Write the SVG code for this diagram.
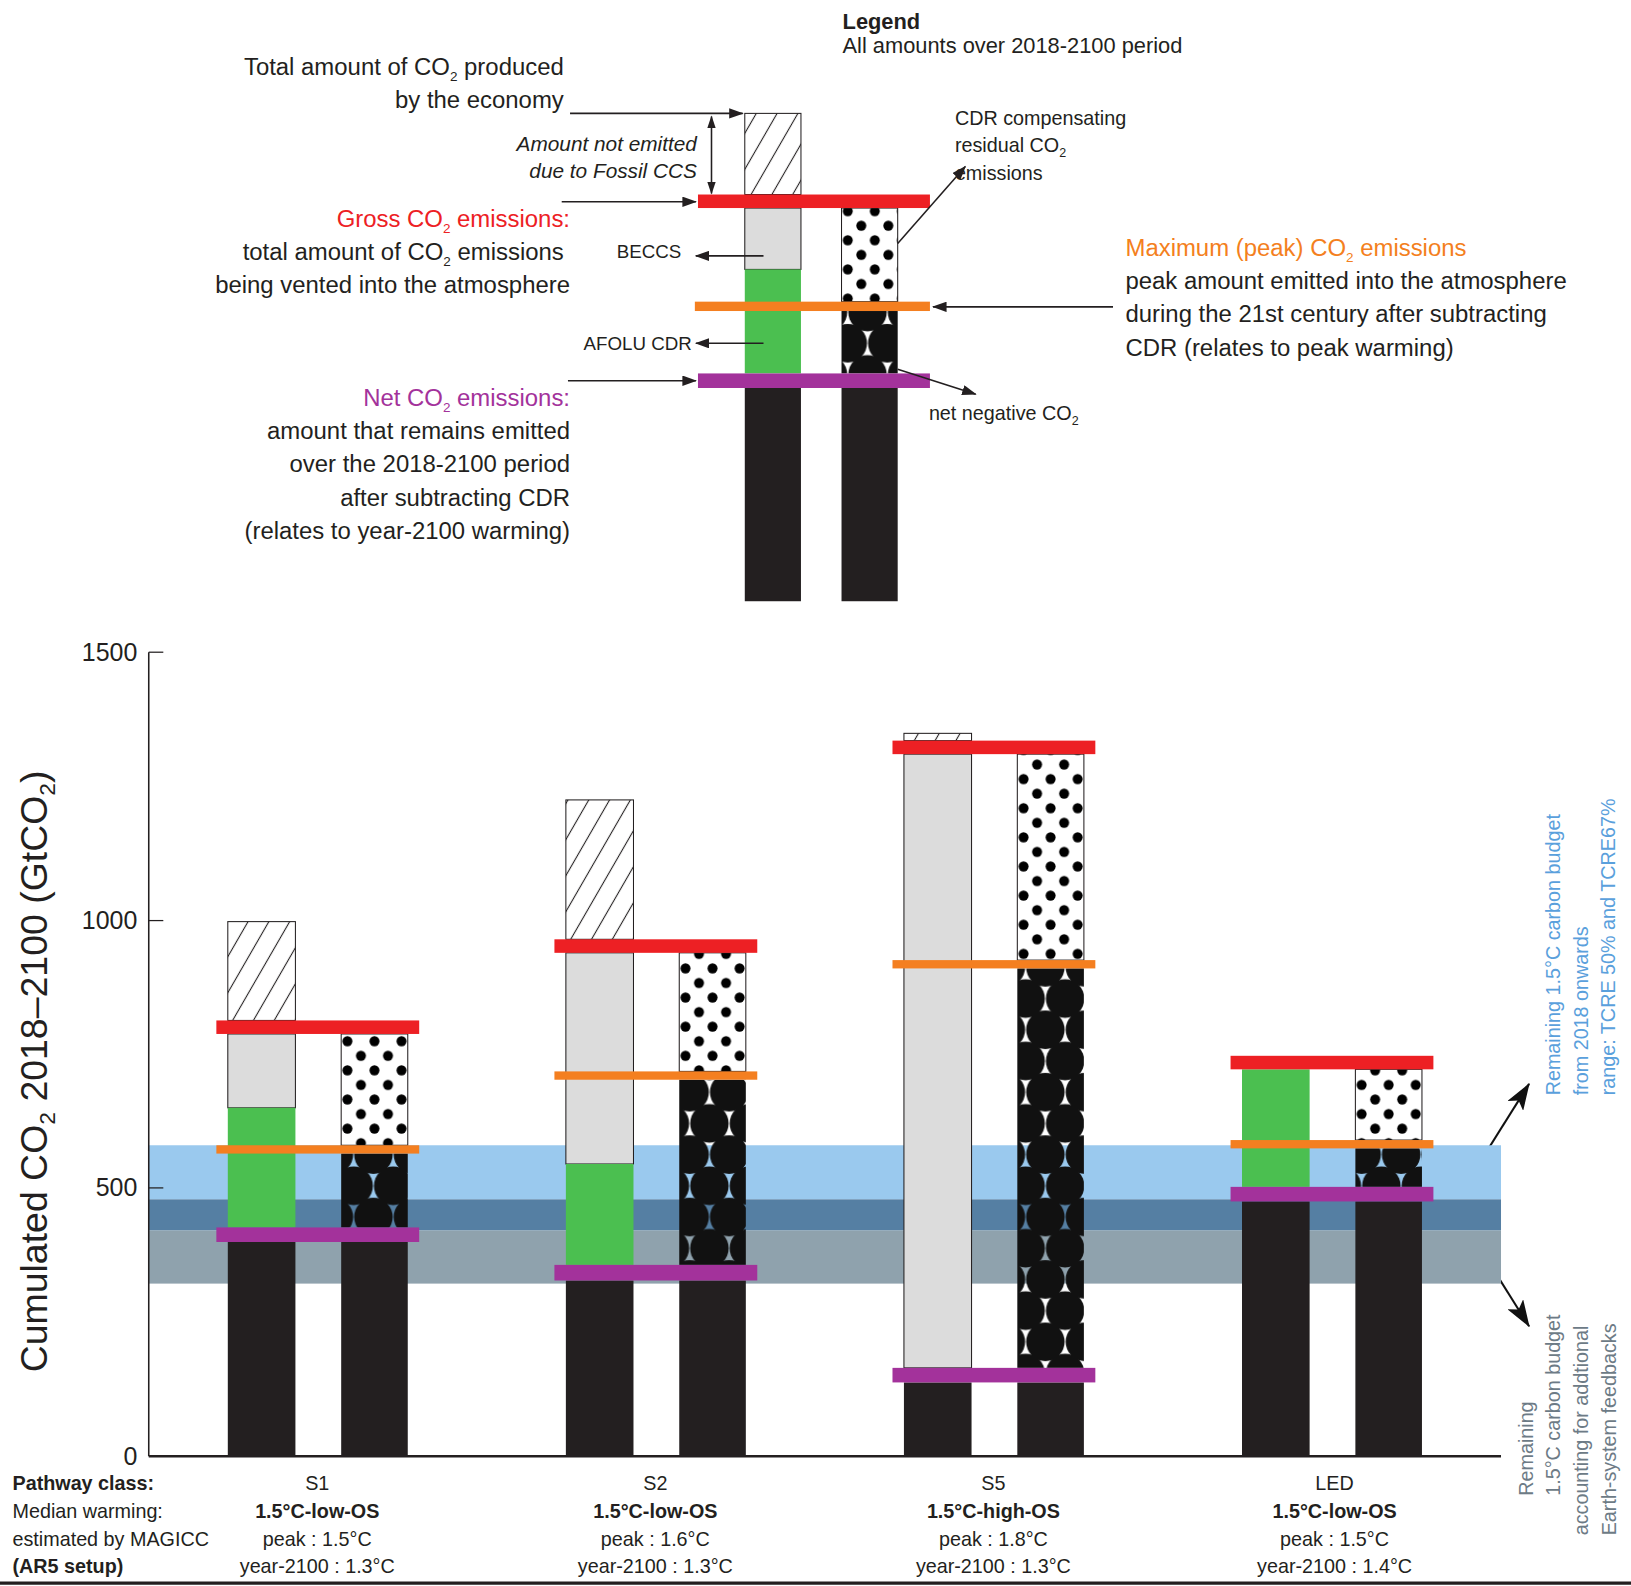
<svg xmlns="http://www.w3.org/2000/svg" width="1631" height="1586" viewBox="0 0 1631 1586">
<style>
text{font-family:"Liberation Sans",Arial,sans-serif;fill:#231f20}
.t{font-size:23px}
.s{font-size:20px}
.b{font-weight:bold}
.k{fill:#231f20}
.o{stroke:#231f20;stroke-width:1}
.ln{stroke:#231f20;stroke-width:1.5;fill:none}
.red{fill:#ed2024}.org{fill:#f47f20}.pur{fill:#a3329b}.grn{fill:#4bbf50}.gry{fill:#dcdcdc}
</style>
<defs>
<pattern id="hatch" patternUnits="userSpaceOnUse" width="20" height="20" patternTransform="skewX(-30)">
<rect width="20" height="20" fill="#fff"/><line x1="10" y1="0" x2="10" y2="20" stroke="#231f20" stroke-width="1.2"/>
</pattern>
<pattern id="dots" patternUnits="userSpaceOnUse" width="26" height="28" x="3">
<rect width="26" height="28" fill="#fff"/><circle cx="6" cy="7" r="4.8" fill="#000"/><circle cx="19" cy="21" r="4.8" fill="#000"/>
</pattern>
<pattern id="circ" patternUnits="userSpaceOnUse" width="38" height="60" x="-2">
<circle cx="0" cy="0" r="18.5" fill="#111"/><circle cx="38" cy="0" r="18.5" fill="#111"/><circle cx="19" cy="30" r="18.5" fill="#111"/><circle cx="0" cy="60" r="18.5" fill="#111"/><circle cx="38" cy="60" r="18.5" fill="#111"/>
</pattern>
<marker id="ah" markerUnits="userSpaceOnUse" markerWidth="14" markerHeight="10" refX="13" refY="5" orient="auto"><path d="M0,0 L14,5 L0,10 Z" fill="#231f20"/></marker>
<marker id="ahs" markerUnits="userSpaceOnUse" markerWidth="12" markerHeight="8" refX="11" refY="4" orient="auto-start-reverse"><path d="M0,0 L12,4 L0,8 Z" fill="#231f20"/></marker>
<marker id="ahb" markerUnits="userSpaceOnUse" markerWidth="26" markerHeight="18" refX="25" refY="9" orient="auto"><path d="M0,0 L26,9 L0,18 L6,9 Z" fill="#111"/></marker>
</defs>
<rect width="1631" height="1586" fill="#fff"/>
<g transform="scale(1.0402)">
<!-- legend -->
<g id="legend-title">
<text x="810" y="28" class="t b" style="font-size:21px">Legend</text>
<text x="810" y="51" class="t" style="font-size:21px">All amounts over 2018-2100 period</text>
</g>
<g id="legend-bars">
<rect x="716" y="109" width="54" height="78" fill="url(#hatch)" class="o"/>
<rect x="716" y="200" width="54" height="59" class="gry o"/>
<rect x="716" y="259" width="54" height="100" class="grn"/>
<rect x="716" y="373" width="54" height="205" class="k"/>
<rect x="809" y="200" width="54" height="90" fill="url(#dots)" class="o"/>
<rect x="809" y="299" width="54" height="60" fill="url(#circ)"/>
<rect x="809" y="373" width="54" height="205" class="k"/>
<rect x="671" y="187" width="223" height="13" class="red"/>
<rect x="668" y="290" width="226" height="9" class="org"/>
<rect x="671" y="359" width="223" height="14" class="pur"/>
</g>
<g id="legend-texts">
<text x="542" y="72" class="t" text-anchor="end">Total amount of CO<tspan dy="6" font-size="13">2</tspan><tspan dy="-6"> produced</tspan></text>
<text x="542" y="104" class="t" text-anchor="end">by the economy</text>
<text x="670" y="145" class="s" text-anchor="end" font-style="italic">Amount not emitted</text>
<text x="670" y="171" class="s" text-anchor="end" font-style="italic">due to Fossil CCS</text>
<text x="548" y="218" class="t" text-anchor="end" style="fill:#ed2024">Gross CO<tspan dy="6" font-size="13" style="fill:#ed2024">2</tspan><tspan dy="-6" style="fill:#ed2024"> emissions:</tspan></text>
<text x="542" y="250" class="t" text-anchor="end">total amount of CO<tspan dy="6" font-size="13">2</tspan><tspan dy="-6"> emissions</tspan></text>
<text x="548" y="282" class="t" text-anchor="end">being vented into the atmosphere</text>
<text x="655" y="248" class="s" text-anchor="end" style="font-size:18px">BECCS</text>
<text x="665" y="336" class="s" text-anchor="end" style="font-size:18px">AFOLU CDR</text>
<text x="548" y="390" class="t" text-anchor="end" style="fill:#a3329b">Net CO<tspan dy="6" font-size="13" style="fill:#a3329b">2</tspan><tspan dy="-6" style="fill:#a3329b"> emissions:</tspan></text>
<text x="548" y="422" class="t" text-anchor="end">amount that remains emitted</text>
<text x="548" y="454" class="t" text-anchor="end">over the 2018-2100 period</text>
<text x="548" y="486" class="t" text-anchor="end">after subtracting CDR</text>
<text x="548" y="518" class="t" text-anchor="end">(relates to year-2100 warming)</text>
<text x="918" y="120" class="s" style="font-size:19px">CDR compensating</text>
<text x="918" y="146" class="s" style="font-size:19px">residual CO<tspan dy="5" font-size="12">2</tspan></text>
<text x="918" y="173" class="s" style="font-size:19px">emissions</text>
<text x="893" y="404" class="s" style="font-size:19px">net negative CO<tspan dy="5" font-size="12">2</tspan></text>
<text x="1082" y="246" class="t" style="fill:#f47f20">Maximum (peak) CO<tspan dy="6" font-size="13" style="fill:#f47f20">2</tspan><tspan dy="-6" style="fill:#f47f20"> emissions</tspan></text>
<text x="1082" y="278" class="t">peak amount emitted into the atmosphere</text>
<text x="1082" y="310" class="t">during the 21st century after subtracting</text>
<text x="1082" y="342" class="t">CDR (relates to peak warming)</text>
</g>
<g id="connectors">
<line x1="548" y1="109" x2="714" y2="109" class="ln" marker-end="url(#ah)"/>
<line x1="684" y1="112" x2="684" y2="186" class="ln" marker-start="url(#ahs)" marker-end="url(#ahs)"/>
<line x1="540" y1="194" x2="669" y2="194" class="ln" marker-end="url(#ah)"/>
<line x1="734" y1="246" x2="669" y2="246" class="ln" marker-end="url(#ah)"/>
<line x1="734" y1="330" x2="669" y2="330" class="ln" marker-end="url(#ah)"/>
<line x1="546" y1="366" x2="669" y2="366" class="ln" marker-end="url(#ah)"/>
<line x1="863" y1="234" x2="928" y2="160" class="ln" marker-end="url(#ah)"/>
<line x1="863" y1="355" x2="938" y2="379" class="ln" marker-end="url(#ah)"/>
<line x1="1070" y1="295" x2="897" y2="295" class="ln" marker-end="url(#ah)"/>
<line x1="1426" y1="1112" x2="1470" y2="1042" stroke="#111" stroke-width="2" marker-end="url(#ahb)"/>
<line x1="1426" y1="1205" x2="1470" y2="1275" stroke="#111" stroke-width="2" marker-end="url(#ahb)"/>
</g>
<!-- chart -->
<g id="bands">
<rect x="143" y="1101" width="1300" height="52" fill="#9ac9ee"/>
<rect x="143" y="1153" width="1300" height="30" fill="#557fa3"/>
<rect x="143" y="1183" width="1300" height="51" fill="#8fa2ad"/>
</g>
<g id="axes">
<line x1="143" y1="627" x2="143" y2="1400" stroke="#231f20" stroke-width="1.5"/>
<line x1="143" y1="1400" x2="1443" y2="1400" stroke="#231f20" stroke-width="2.5"/>
<g stroke="#231f20" stroke-width="1.2"><line x1="143" y1="627" x2="157" y2="627"/><line x1="143" y1="885" x2="157" y2="885"/><line x1="143" y1="1142" x2="157" y2="1142"/></g>
<g style="font-size:24px" text-anchor="end"><text x="132" y="635">1500</text><text x="132" y="893">1000</text><text x="132" y="1150">500</text><text x="132" y="1408">0</text></g>
<text transform="translate(45,1030) rotate(-90)" text-anchor="middle" style="font-size:36px">Cumulated CO<tspan dy="8" font-size="22">2</tspan><tspan dy="-8">  2018–2100 (GtCO</tspan><tspan dy="8" font-size="22">2</tspan><tspan dy="-8">)</tspan></text>
</g>
<g id="S1">
<rect x="219" y="886" width="65" height="95" fill="url(#hatch)" class="o"/>
<rect x="219" y="994" width="65" height="71" class="gry o"/>
<rect x="219" y="1065" width="65" height="115" class="grn"/>
<rect x="328" y="994" width="64" height="107" fill="url(#dots)" class="o"/>
<rect x="328" y="1109" width="64" height="71" fill="url(#circ)"/>
<rect x="219" y="1194" width="65" height="206" class="k"/>
<rect x="328" y="1194" width="64" height="206" class="k"/>
<rect x="208" y="981" width="195" height="13" class="red"/>
<rect x="208" y="1101" width="195" height="8" class="org"/>
<rect x="208" y="1180" width="195" height="14" class="pur"/>
</g>
<g id="S2">
<rect x="544" y="769" width="65" height="134" fill="url(#hatch)" class="o"/>
<rect x="544" y="916" width="65" height="203" class="gry o"/>
<rect x="544" y="1119" width="65" height="97" class="grn"/>
<rect x="653" y="916" width="64" height="114" fill="url(#dots)" class="o"/>
<rect x="653" y="1038" width="64" height="178" fill="url(#circ)"/>
<rect x="544" y="1231" width="65" height="169" class="k"/>
<rect x="653" y="1231" width="64" height="169" class="k"/>
<rect x="533" y="903" width="195" height="13" class="red"/>
<rect x="533" y="1030" width="195" height="8" class="org"/>
<rect x="533" y="1216" width="195" height="15" class="pur"/>
</g>
<g id="S5">
<rect x="869" y="705" width="65" height="7" fill="url(#hatch)" class="o"/>
<rect x="869" y="725" width="65" height="590" class="gry o"/>
<rect x="978" y="725" width="64" height="198" fill="url(#dots)" class="o"/>
<rect x="978" y="931" width="64" height="384" fill="url(#circ)"/>
<rect x="869" y="1329" width="65" height="71" class="k"/>
<rect x="978" y="1329" width="64" height="71" class="k"/>
<rect x="858" y="712" width="195" height="13" class="red"/>
<rect x="858" y="923" width="195" height="8" class="org"/>
<rect x="858" y="1315" width="195" height="14" class="pur"/>
</g>
<g id="LED">
<rect x="1194" y="1028" width="65" height="113" class="grn"/>
<rect x="1303" y="1028" width="64" height="68" fill="url(#dots)" class="o"/>
<rect x="1303" y="1104" width="64" height="37" fill="url(#circ)"/>
<rect x="1194" y="1155" width="65" height="245" class="k"/>
<rect x="1303" y="1155" width="64" height="245" class="k"/>
<rect x="1183" y="1015" width="195" height="13" class="red"/>
<rect x="1183" y="1096" width="195" height="8" class="org"/>
<rect x="1183" y="1141" width="195" height="14" class="pur"/>
</g>
<g id="budget-labels" style="font-size:19px">
<g style="fill:#5aa0dc">
<text transform="translate(1500,1053) rotate(-90)" style="fill:#5aa0dc">Remaining 1.5°C carbon budget</text>
<text transform="translate(1527,1053) rotate(-90)" style="fill:#5aa0dc">from 2018 onwards</text>
<text transform="translate(1553,1053) rotate(-90)" style="fill:#5aa0dc">range: TCRE 50% and TCRE67%</text>
</g>
<text transform="translate(1474,1438) rotate(-90)" style="fill:#6d7b86">Remaining</text>
<text transform="translate(1500,1438) rotate(-90)" style="fill:#6d7b86">1.5°C carbon budget</text>
<text transform="translate(1527,1476) rotate(-90)" style="fill:#6d7b86">accounting for addtional</text>
<text transform="translate(1554,1476) rotate(-90)" style="fill:#6d7b86">Earth-system feedbacks</text>
</g>
<g id="pathway-labels" style="font-size:19px">
<text x="12" y="1432" class="b">Pathway class:</text>
<text x="12" y="1459">Median warming:</text>
<text x="12" y="1486">estimated by MAGICC</text>
<text x="12" y="1512" class="b">(AR5 setup)</text>
<g text-anchor="middle">
<text x="305" y="1432">S1</text><text x="305" y="1459" class="b">1.5°C-low-OS</text><text x="305" y="1486">peak : 1.5°C</text><text x="305" y="1512">year-2100 : 1.3°C</text>
<text x="630" y="1432">S2</text><text x="630" y="1459" class="b">1.5°C-low-OS</text><text x="630" y="1486">peak : 1.6°C</text><text x="630" y="1512">year-2100 : 1.3°C</text>
<text x="955" y="1432">S5</text><text x="955" y="1459" class="b">1.5°C-high-OS</text><text x="955" y="1486">peak : 1.8°C</text><text x="955" y="1512">year-2100 : 1.3°C</text>
<text x="1283" y="1432">LED</text><text x="1283" y="1459" class="b">1.5°C-low-OS</text><text x="1283" y="1486">peak : 1.5°C</text><text x="1283" y="1512">year-2100 : 1.4°C</text>
</g>
</g>
<line x1="0" y1="1522" x2="1568" y2="1522" stroke="#231f20" stroke-width="3"/>
</g>
</svg>
